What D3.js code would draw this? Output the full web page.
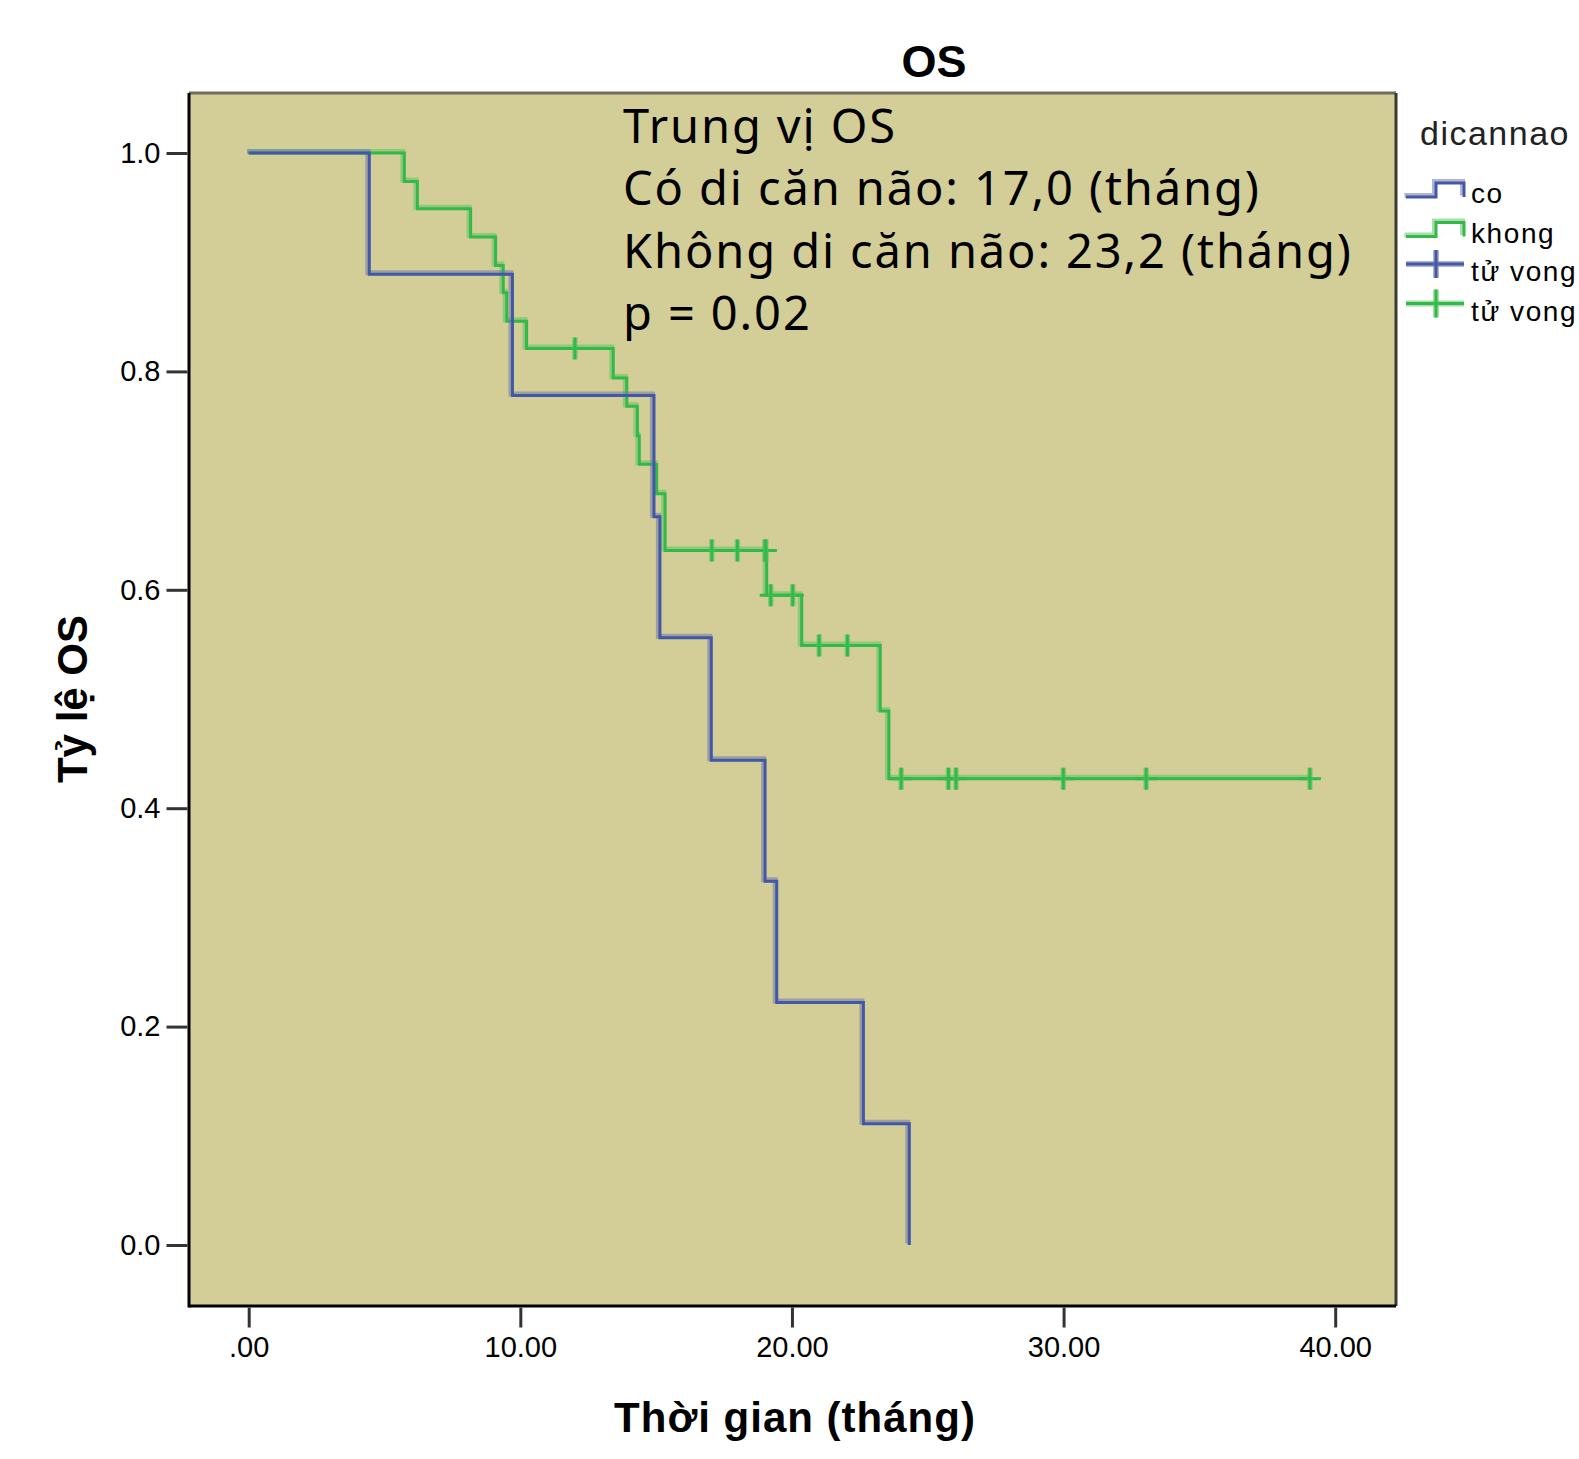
<!DOCTYPE html>
<html>
<head>
<meta charset="utf-8">
<script src="https://cdn.jsdelivr.net/npm/d3@7"></script>
<style>
  body { margin: 0; background: #fff; }
  .tick text { font-family: "Liberation Sans", Arial, sans-serif; }
</style>
</head>
<body>
<svg id="chart" width="1579" height="1459"></svg>
<script>
"use strict"

// group "co" (di can nao) - step times and survival
const coTimes = [0, 4.44, 9.71, 14.92, 15.14, 17.03, 19.01, 19.44, 22.63, 24.32];
const coSurv = [1.0, 0.889, 0.778, 0.667, 0.556, 0.444, 0.333, 0.222, 0.111, 0.0];

// group "khong"
const khongTimes = [0, 5.73, 6.21, 8.17, 9.09, 9.37, 9.50, 10.23, 13.42, 13.92, 14.31, 14.38, 15.02, 15.33, 19.07, 20.36, 23.25, 23.57];
const khongSurv = [1.0, 0.974, 0.949, 0.923, 0.897, 0.872, 0.846, 0.821, 0.794, 0.768, 0.741, 0.715, 0.688, 0.636, 0.595, 0.549, 0.489, 0.427];
const khongCensor = [12.01, 17.05, 17.99, 19.0, 19.04, 19.22, 20.03, 21.0, 22.04, 24.02, 25.76, 26.04, 29.99, 33.04, 39.07];

const xTicks = [0, 10, 20, 30, 40];
const xTickLabels = [".00", "10.00", "20.00", "30.00", "40.00"];
const yTicks = [0, 0.2, 0.4, 0.6, 0.8, 1.0];

const legendLabels = ["co", "khong", "tử vong", "tử vong"];
const noteLines = ["Trung vị OS", "Có di căn não: 17,0 (tháng)", "Không di căn não: 23,2 (tháng)", "p = 0.02"];

var frame = { left: 189, top: 93, right: 1396, bottom: 1306 };
var colors = {
    bg: "#d3cd98",
    blue: "#4257a8", blueHalo: "#6f7aa6",
    green: "#33b84a", greenHalo: "#5cc462"
};

var svg = d3.select("#chart");

var xScale = d3.scaleLinear().domain([0, 40]).range([248.7, 1335.2]);
var yScale = d3.scaleLinear().domain([0, 1]).range([1245, 153]);

svg.append("rect")
    .attr("x", frame.left)
    .attr("y", frame.top)
    .attr("width", frame.right - frame.left)
    .attr("height", frame.bottom - frame.top)
    .attr("fill", colors.bg);

// frame borders
svg.append("line").attr("x1", frame.left).attr("x2", frame.right).attr("y1", frame.top).attr("y2", frame.top)
    .attr("stroke", "#6f6c5c").attr("stroke-width", 3);
svg.append("line").attr("x1", frame.right).attr("x2", frame.right).attr("y1", frame.top).attr("y2", frame.bottom)
    .attr("stroke", "#3a3a30").attr("stroke-width", 3);
svg.append("line").attr("x1", frame.left).attr("x2", frame.right).attr("y1", frame.bottom).attr("y2", frame.bottom)
    .attr("stroke", "#000").attr("stroke-width", 3);
svg.append("line").attr("x1", frame.left).attr("x2", frame.left).attr("y1", frame.top).attr("y2", frame.bottom + 1.5)
    .attr("stroke", "#000").attr("stroke-width", 3);

// axes
var xAxis = d3.axisBottom(xScale)
    .tickValues(xTicks)
    .tickFormat(function(d, i) { return xTickLabels[i]; })
    .tickSize(20)
    .tickPadding(9);
var gx = svg.append("g")
    .attr("transform", "translate(0," + (frame.bottom + 1.5) + ")")
    .call(xAxis);
gx.select(".domain").remove();
gx.selectAll(".tick line").attr("stroke", "#333").attr("stroke-width", 3);
gx.selectAll(".tick text").attr("font-size", 29).attr("fill", "#000");

var yAxis = d3.axisLeft(yScale)
    .tickValues(yTicks)
    .tickFormat(d3.format(".1f"))
    .tickSize(21)
    .tickPadding(6);
var gy = svg.append("g")
    .attr("transform", "translate(" + (frame.left - 1.5) + ",0)")
    .call(yAxis);
gy.select(".domain").remove();
gy.selectAll(".tick line").attr("stroke", "#333").attr("stroke-width", 3);
gy.selectAll(".tick text").attr("font-size", 29).attr("fill", "#000");

// survival curves
var line = d3.line()
    .x(function(d) { return xScale(d[0]); })
    .y(function(d) { return yScale(d[1]); })
    .curve(d3.curveStepAfter);

var coPts = coTimes.map(function(t, i) { return [t, coSurv[i]]; });
var khongPts = khongTimes.map(function(t, i) { return [t, khongSurv[i]]; });
khongPts.push([d3.max(khongCensor), khongSurv[khongSurv.length - 1]]);

function survAt(times, surv, t) {
    var i = d3.bisectRight(times, t) - 1;
    return surv[Math.max(i, 0)];
}

function drawCurve(pts, core, halo) {
    svg.append("path")
        .attr("d", line(pts))
        .attr("transform", "translate(-1.5,-1.5)")
        .attr("fill", "none")
        .attr("stroke", halo)
        .attr("stroke-opacity", 0.55)
        .attr("stroke-width", 5);
    svg.append("path")
        .attr("d", line(pts))
        .attr("fill", "none")
        .attr("stroke", core)
        .attr("stroke-width", 3);
}

drawCurve(khongPts, colors.green, colors.greenHalo);
drawCurve(coPts, colors.blue, colors.blueHalo);

// censor marks
var censor = svg.append("g");
khongCensor.forEach(function(t) {
    var cx = xScale(t), cy = yScale(survAt(khongTimes, khongSurv, t));
    censor.append("line").attr("x1", cx - 11).attr("x2", cx + 11).attr("y1", cy).attr("y2", cy)
        .attr("stroke", colors.green).attr("stroke-width", 3);
    censor.append("line").attr("x1", cx).attr("x2", cx).attr("y1", cy - 11).attr("y2", cy + 11)
        .attr("stroke", colors.greenHalo).attr("stroke-opacity", 0.6).attr("stroke-width", 5.5);
    censor.append("line").attr("x1", cx).attr("x2", cx).attr("y1", cy - 11).attr("y2", cy + 11)
        .attr("stroke", colors.green).attr("stroke-width", 3);
});

// annotation
var note = svg.append("text")
    .attr("font-family", "'Noto Sans', sans-serif")
    .attr("font-size", 47)
    .attr("letter-spacing", 1.9)
    .attr("fill", "#000");
noteLines.forEach(function(s, i) {
    note.append("tspan")
        .attr("x", 623)
        .attr("y", 143 + i * 62.3)
        .text(s);
});

// titles
svg.append("text")
    .attr("x", 934).attr("y", 77)
    .attr("text-anchor", "middle")
    .attr("font-family", "'Liberation Sans', Arial, sans-serif")
    .attr("font-weight", "bold")
    .attr("font-size", 45)
    .text("OS");

svg.append("text")
    .attr("x", 795).attr("y", 1432)
    .attr("text-anchor", "middle")
    .attr("font-family", "'Liberation Sans', Arial, sans-serif")
    .attr("font-weight", "bold")
    .attr("font-size", 42)
    .attr("letter-spacing", 1)
    .text("Thời gian (tháng)");

svg.append("text")
    .attr("transform", "translate(87,699) rotate(-90)")
    .attr("text-anchor", "middle")
    .attr("font-family", "'Liberation Sans', Arial, sans-serif")
    .attr("font-weight", "bold")
    .attr("font-size", 42)
    .text("Tỷ lệ OS");

// legend
var legend = svg.append("g")
    .attr("font-family", "'Liberation Sans', Arial, sans-serif");

legend.append("text")
    .attr("x", 1420).attr("y", 145)
    .attr("font-size", 34)
    .attr("letter-spacing", 1.5)
    .attr("fill", "#222")
    .text("dicannao");

var legendItems = [
    { type: "step", core: colors.blue, halo: colors.blueHalo },
    { type: "step", core: colors.green, halo: colors.greenHalo },
    { type: "cross", core: colors.blue, halo: colors.blueHalo },
    { type: "cross", core: colors.green, halo: colors.greenHalo }
];

legendItems.forEach(function(item, i) {
    var cy = 197 + i * 39.5;
    var g = legend.append("g");
    if (item.type == "step") {
        var d = "M1406," + cy + "H1436V" + (cy - 14) + "H1464V" + cy;
        g.append("path").attr("d", d).attr("transform", "translate(-1.5,-1.5)")
            .attr("fill", "none").attr("stroke", item.halo).attr("stroke-opacity", 0.55).attr("stroke-width", 5);
        g.append("path").attr("d", d)
            .attr("fill", "none").attr("stroke", item.core).attr("stroke-width", 3);
    } else {
        var my = cy - 12;
        g.append("line").attr("x1", 1406).attr("x2", 1464).attr("y1", my).attr("y2", my)
            .attr("stroke", item.halo).attr("stroke-opacity", 0.55).attr("stroke-width", 6);
        g.append("line").attr("x1", 1406).attr("x2", 1464).attr("y1", my).attr("y2", my)
            .attr("stroke", item.core).attr("stroke-width", 3);
        g.append("line").attr("x1", 1436).attr("x2", 1436).attr("y1", my - 14).attr("y2", my + 14)
            .attr("stroke", item.halo).attr("stroke-opacity", 0.55).attr("stroke-width", 6);
        g.append("line").attr("x1", 1436).attr("x2", 1436).attr("y1", my - 14).attr("y2", my + 14)
            .attr("stroke", item.core).attr("stroke-width", 3);
    }
    g.append("text")
        .attr("x", 1471)
        .attr("y", cy + 6 - (item.type == "cross" ? 1 : 0))
        .attr("font-size", 28)
        .attr("letter-spacing", 1.6)
        .attr("fill", "#000")
        .text(legendLabels[i]);
});
</script>
</body>
</html>
